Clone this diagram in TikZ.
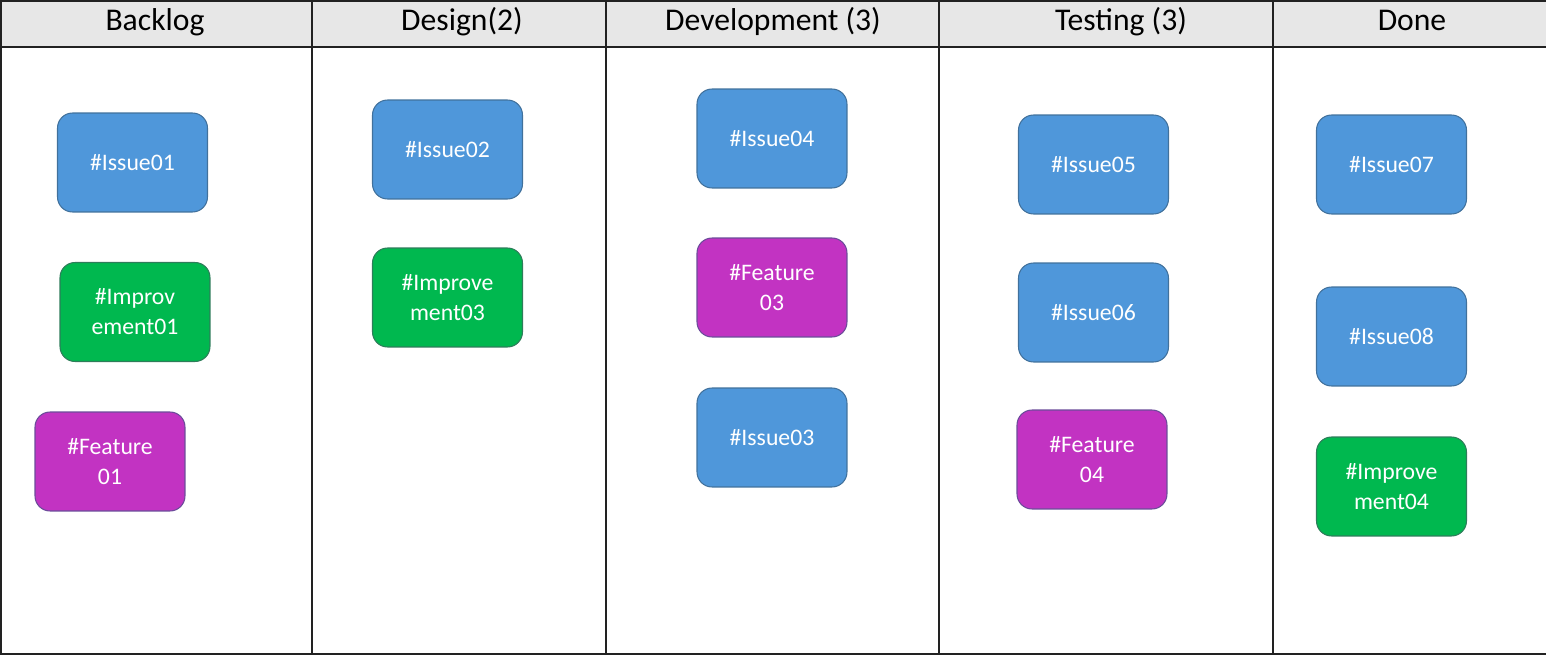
\documentclass[tikz,border=0pt]{standalone}
\usepackage{fontspec}
\setmainfont{Carlito}
\definecolor{hdrfill}{HTML}{E7E7E7}
\definecolor{issuefill}{HTML}{4F97DA}
\definecolor{issuedraw}{HTML}{41719C}
\definecolor{impfill}{HTML}{00B84F}
\definecolor{impdraw}{HTML}{2E7D5A}
\definecolor{featfill}{HTML}{C233C2}
\definecolor{featdraw}{HTML}{6B4C9A}
\definecolor{gridline}{HTML}{222222}
\tikzset{
  card/.style={rectangle, rounded corners=0.3cm, minimum width=3.0cm, minimum height=1.98cm,
    line width=0.6pt, text=white, align=center, inner sep=0pt,
    font=\fontsize{13.5}{17}\selectfont},
  issue/.style={card, fill=issuefill, draw=issuedraw},
  improvement/.style={card, fill=impfill, draw=impdraw},
  feature/.style={card, fill=featfill, draw=featdraw},
  header/.style={font=\fontsize{18}{21}\selectfont, text=black, inner sep=0pt, anchor=base},
  grid/.style={draw=gridline, line width=1pt}
}
\begin{document}
\begin{tikzpicture}[x=0.02cm, y=-0.02cm]
\useasboundingbox (0,0) rectangle (1546,655);
% header band
\fill[hdrfill] (0,0) rectangle (1546,47);
% grid lines
\draw[grid] (0.5,0.8) -- (1546,0.8);
\draw[grid] (0,47) -- (1546,47);
\draw[grid] (0,654) -- (1546,654);
\draw[grid] (0.7,0) -- (0.7,655);
\foreach \xx in {312,606,939,1273} {
  \draw[grid] (\xx,0) -- (\xx,655);
}
% headers
\node[header] (hBacklog) at (155,31) {Backlog};
\node[header] (hDesign) at (462,31) {Design(2)};
\node[header] (hDev) at (773,31) {Development (3)};
\node[header] (hTest) at (1121,31) {Testing (3)};
\node[header] (hDone) at (1412,31) {Done};
% Backlog
\node[issue] (issue01) at (132.5,162.5) {\#Issue01};
\node[improvement] (imp01) at (135,312) {\#Improv\\ement01};
\node[feature] (feat01) at (110,461.5) {\#Feature\\01};
% Design
\node[issue] (issue02) at (447.5,149.5) {\#Issue02};
\node[improvement] (imp03) at (447.5,297.5) {\#Improve\\ment03};
% Development
\node[issue] (issue04) at (772,138.5) {\#Issue04};
\node[feature] (feat03) at (772,287.5) {\#Feature\\03};
\node[issue] (issue03) at (772,437.5) {\#Issue03};
% Testing
\node[issue] (issue05) at (1093.5,164.5) {\#Issue05};
\node[issue] (issue06) at (1093.5,312.5) {\#Issue06};
\node[feature] (feat04) at (1092,459.5) {\#Feature\\04};
% Done
\node[issue] (issue07) at (1391.5,164.5) {\#Issue07};
\node[issue] (issue08) at (1391.5,336.5) {\#Issue08};
\node[improvement] (imp04) at (1391.5,486.5) {\#Improve\\ment04};
\end{tikzpicture}
\end{document}
